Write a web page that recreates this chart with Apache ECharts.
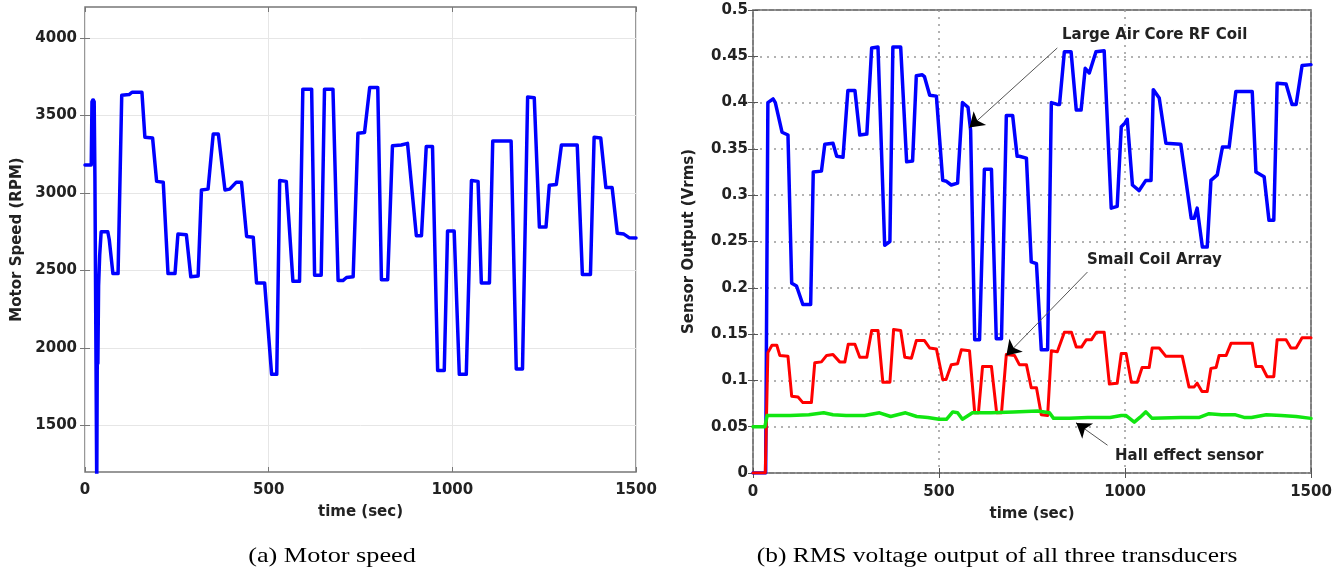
<!DOCTYPE html>
<html>
<head>
<meta charset="utf-8">
<script src="https://cdn.jsdelivr.net/npm/echarts@6/dist/echarts.min.js"></script>
<style>
html,body{margin:0;padding:0;background:#fff;}
#chart{width:1343px;height:573px;}
</style>
</head>
<body>
<div id="chart"></div>
<script>
// ---------- DATA ----------
const xTicks = [0, 500, 1000, 1500];
const motorTicks = [1500, 2000, 2500, 3000, 3500, 4000];

// (a) Motor speed [time s, RPM]
const motorSpeed = [[0,3180],[17,3180],[19,3590],[20,3200],[21,3600],[22,3200],[23,3600],[24,3250],[25,3590],[27,3100],[30,1900],[32,1100],[34,2300],[35,1900],[37,2400],[40,2600],[44,2750],[62,2750],[66,2700],[76,2480],[90,2480],[100,3630],[120,3635],[128,3650],[155,3650],[163,3360],[184,3355],[195,3075],[213,3070],[226,2480],[245,2480],[253,2735],[276,2730],[288,2460],[308,2465],[317,3020],[335,3025],[349,3380],[363,3380],[381,3020],[394,3025],[412,3070],[426,3070],[440,2720],[458,2715],[467,2420],[489,2420],[508,1830],[522,1830],[530,3080],[548,3075],[566,2430],[584,2430],[593,3670],[617,3670],[625,2470],[643,2470],[652,3670],[675,3670],[689,2435],[702,2435],[712,2455],[730,2460],[743,3385],[761,3390],[775,3680],[797,3680],[807,2440],[824,2440],[837,3305],[861,3310],[878,3320],[902,2725],[916,2725],[929,3300],[946,3300],[960,1855],[978,1855],[987,2755],[1005,2755],[1019,1830],[1038,1830],[1052,3080],[1070,3075],[1079,2420],[1101,2420],[1110,3335],[1160,3335],[1174,1865],[1191,1865],[1205,3620],[1223,3615],[1237,2780],[1255,2780],[1264,3050],[1283,3055],[1297,3310],[1340,3310],[1354,2475],[1376,2475],[1386,3360],[1404,3355],[1418,3035],[1435,3035],[1449,2740],[1467,2735],[1481,2712],[1500,2710]];

// (b) Large Air Core RF Coil [time s, Vrms]
const largeCoil = [[0,0],[34,0],[40,0.40],[54,0.404],[60,0.40],[78,0.368],[94,0.365],[104,0.205],[117,0.202],[134,0.182],[155,0.182],[162,0.325],[184,0.326],[193,0.355],[215,0.356],[225,0.342],[242,0.341],[255,0.413],[274,0.413],[287,0.365],[306,0.366],[319,0.459],[336,0.46],[354,0.246],[368,0.25],[376,0.46],[397,0.46],[413,0.336],[429,0.337],[439,0.429],[455,0.43],[461,0.428],[475,0.408],[493,0.407],[510,0.316],[520,0.315],[533,0.311],[550,0.313],[563,0.40],[578,0.395],[585,0.37],[596,0.144],[609,0.144],[622,0.328],[641,0.328],[654,0.145],[668,0.145],[681,0.386],[698,0.386],[710,0.342],[716,0.342],[735,0.34],[748,0.228],[762,0.226],[775,0.133],[792,0.133],[802,0.40],[818,0.398],[824,0.398],[837,0.455],[855,0.455],[869,0.392],[882,0.392],[893,0.437],[904,0.432],[922,0.455],[944,0.456],[963,0.286],[979,0.288],[990,0.374],[1000,0.378],[1006,0.382],[1020,0.311],[1038,0.305],[1056,0.316],[1070,0.316],[1076,0.414],[1092,0.405],[1110,0.356],[1150,0.355],[1178,0.275],[1186,0.275],[1194,0.286],[1208,0.244],[1221,0.244],[1231,0.316],[1248,0.322],[1262,0.352],[1280,0.352],[1298,0.412],[1342,0.412],[1352,0.325],[1374,0.32],[1387,0.273],[1400,0.273],[1409,0.421],[1433,0.42],[1449,0.398],[1460,0.398],[1476,0.44],[1500,0.441]];

// (b) Small Coil Array
const smallCoil = [[0,0],[33,0],[40,0.13],[51,0.138],[64,0.138],[72,0.127],[94,0.126],[104,0.083],[121,0.082],[134,0.076],[157,0.076],[166,0.119],[184,0.12],[198,0.127],[215,0.128],[233,0.12],[247,0.12],[256,0.139],[274,0.139],[287,0.125],[306,0.125],[319,0.154],[336,0.154],[349,0.098],[368,0.098],[378,0.155],[397,0.154],[408,0.125],[426,0.124],[439,0.143],[461,0.143],[475,0.135],[493,0.134],[510,0.101],[519,0.101],[533,0.117],[550,0.118],[560,0.133],[582,0.132],[596,0.065],[606,0.065],[617,0.115],[641,0.115],[655,0.065],[668,0.065],[681,0.128],[703,0.127],[716,0.117],[735,0.117],[748,0.092],[762,0.092],[775,0.063],[792,0.062],[802,0.132],[818,0.131],[837,0.152],[856,0.152],[869,0.136],[883,0.136],[896,0.144],[910,0.144],[923,0.152],[944,0.152],[958,0.096],[979,0.097],[990,0.129],[1003,0.129],[1017,0.098],[1033,0.098],[1046,0.114],[1065,0.114],[1073,0.135],[1092,0.135],[1110,0.126],[1154,0.126],[1172,0.093],[1186,0.093],[1194,0.097],[1207,0.088],[1221,0.088],[1231,0.113],[1245,0.114],[1253,0.127],[1272,0.127],[1285,0.14],[1342,0.14],[1352,0.115],[1368,0.115],[1382,0.104],[1400,0.104],[1409,0.144],[1433,0.144],[1446,0.135],[1460,0.135],[1476,0.146],[1500,0.146]];

// (b) Hall effect sensor
const hallSensor = [[0,0.05],[32,0.05],[38,0.062],[100,0.062],[150,0.063],[190,0.065],[215,0.063],[250,0.062],[300,0.062],[340,0.065],[370,0.061],[410,0.065],[440,0.061],[470,0.06],[500,0.058],[520,0.058],[537,0.066],[550,0.065],[563,0.058],[590,0.065],[640,0.065],[700,0.066],[765,0.067],[797,0.065],[808,0.059],[850,0.059],[900,0.06],[960,0.06],[990,0.062],[1003,0.062],[1025,0.055],[1040,0.06],[1056,0.066],[1073,0.059],[1150,0.06],[1200,0.06],[1226,0.064],[1260,0.063],[1295,0.063],[1320,0.06],[1340,0.06],[1380,0.063],[1420,0.062],[1460,0.061],[1500,0.059]];

// annotation arrows: [from, to] in data coordinates
const arrowLarge = [[818, 0.459], [582, 0.373]];
const arrowSmall = [[899, 0.217], [681, 0.127]];
const arrowHall  = [[953, 0.030], [869, 0.054]];

// ---------- CHART ----------
const chart = echarts.init(document.getElementById('chart'), null, {renderer: 'canvas'});
const F = 'DejaVu Sans';
const lblStyle = {fontFamily: F, fontWeight: 'bold', fontSize: 15, color: '#222'};
const plain = v => String(v);

function arrowML(a) {
  const from = a[0], to = a[1];
  const k = 0.03;
  const near = [to[0] + (from[0] - to[0]) * k, to[1] + (from[1] - to[1]) * k];
  return {
    silent: true, animation: false,
    symbol: ['none', 'none'],
    label: {show: false},
    emphasis: {disabled: true},
    data: [
      [{coord: from, lineStyle: {color: '#555', width: 1, type: 'solid'}}, {coord: to}],
      [{coord: near, symbol: 'none', lineStyle: {color: '#000', width: 1, type: 'solid'}},
       {coord: to, symbol: 'arrow', symbolSize: 14}]
    ]
  };
}

const mirrorX = (gi, color) => ({
  gridIndex: gi, type: 'value', position: 'top', min: 0, max: 1500, interval: 500,
  axisLine: {show: false}, axisLabel: {show: false}, splitLine: {show: false},
  axisTick: {show: true, inside: true, length: 5, lineStyle: {color: color}}
});

const option = {
  animation: false,
  backgroundColor: '#fff',
  grid: [
    {left: 85, top: 7, width: 551, height: 465, show: true, borderColor: '#777', borderWidth: 1.5, backgroundColor: '#fff'},
    {left: 753, top: 10, width: 558, height: 463, show: true, borderColor: '#555', borderWidth: 1.5, backgroundColor: '#fff'}
  ],
  xAxis: [
    {gridIndex: 0, type: 'value', min: 0, max: 1500, interval: 500,
     axisLine: {show: false},
     axisTick: {show: true, inside: true, length: 5, lineStyle: {color: '#777'}},
     axisLabel: Object.assign({margin: 11, formatter: plain}, lblStyle),
     splitLine: {show: true, lineStyle: {color: '#e6e6e6', width: 1}},
     name: 'time (sec)', nameLocation: 'middle', nameGap: 33, nameTextStyle: lblStyle},
    mirrorX(0, '#777'),
    {gridIndex: 1, type: 'value', min: 0, max: 1500, interval: 500,
     axisLine: {show: false},
     axisTick: {show: true, inside: true, length: 5, lineStyle: {color: '#555'}},
     axisLabel: Object.assign({margin: 12, formatter: plain}, lblStyle),
     splitLine: {show: true, lineStyle: {color: '#999', width: 1.5, type: [2, 5]}},
     name: 'time (sec)', nameLocation: 'middle', nameGap: 34, nameTextStyle: lblStyle},
    mirrorX(1, '#555')
  ],
  yAxis: [
    {gridIndex: 0, type: 'value', min: 1200, max: 4200,
     axisLine: {show: false},
     axisTick: {show: true, inside: true, length: 5, lineStyle: {color: '#777'}, customValues: motorTicks},
     axisLabel: Object.assign({margin: 8, customValues: motorTicks, formatter: plain}, lblStyle),
     splitLine: {show: true, lineStyle: {color: '#e6e6e6', width: 1}},
     name: 'Motor Speed (RPM)', nameLocation: 'middle', nameGap: 60, nameRotate: 90, nameTextStyle: lblStyle},
    {gridIndex: 0, type: 'value', position: 'right', min: 1200, max: 4200,
     axisLine: {show: false}, axisLabel: {show: false, customValues: motorTicks}, splitLine: {show: false},
     axisTick: {show: true, inside: true, length: 5, lineStyle: {color: '#777'}, customValues: motorTicks}},
    {gridIndex: 1, type: 'value', min: 0, max: 0.5, interval: 0.05,
     axisLine: {show: false},
     axisTick: {show: true, inside: true, length: 5, lineStyle: {color: '#555'}},
     axisLabel: Object.assign({margin: 5, formatter: plain}, lblStyle),
     splitLine: {show: true, lineStyle: {color: '#999', width: 1.5, type: [2, 5]}},
     name: 'Sensor Output (Vrms)', nameLocation: 'middle', nameGap: 56, nameRotate: 90, nameTextStyle: lblStyle},
    {gridIndex: 1, type: 'value', position: 'right', min: 0, max: 0.5, interval: 0.05,
     axisLine: {show: false}, axisLabel: {show: false}, splitLine: {show: false},
     axisTick: {show: true, inside: true, length: 5, lineStyle: {color: '#555'}}}
  ],
  series: [
    {type: 'line', xAxisIndex: 0, yAxisIndex: 0, data: motorSpeed, showSymbol: false, clip: true,
     lineStyle: {color: '#0000ff', width: 3.5, join: 'round', cap: 'round'}, itemStyle: {color: '#0000ff'}},
    {type: 'line', xAxisIndex: 2, yAxisIndex: 2, data: largeCoil, showSymbol: false, clip: true,
     lineStyle: {color: '#0000ff', width: 3.5, join: 'round', cap: 'round'}, itemStyle: {color: '#0000ff'},
     markLine: arrowML(arrowLarge)},
    {type: 'line', xAxisIndex: 2, yAxisIndex: 2, data: smallCoil, showSymbol: false, clip: true,
     lineStyle: {color: '#ff0000', width: 3, join: 'round', cap: 'round'}, itemStyle: {color: '#ff0000'},
     markLine: arrowML(arrowSmall)},
    {type: 'line', xAxisIndex: 2, yAxisIndex: 2, data: hallSensor, showSymbol: false, clip: true,
     lineStyle: {color: '#11e611', width: 3.5, join: 'round', cap: 'round'}, itemStyle: {color: '#11e611'},
     markLine: arrowML(arrowHall)}
  ],
  graphic: [
    {type: 'text', left: 1062, top: 28, z: 100,
     style: {text: 'Large Air Core RF Coil', fontFamily: F, fontWeight: 'bold', fontSize: 15, fill: '#222'}},
    {type: 'text', left: 1087, top: 253, z: 100,
     style: {text: 'Small Coil Array', fontFamily: F, fontWeight: 'bold', fontSize: 15, fill: '#222'}},
    {type: 'text', left: 1115, top: 449, z: 100,
     style: {text: 'Hall effect sensor', fontFamily: F, fontWeight: 'bold', fontSize: 15, fill: '#222'}},
    {type: 'text', x: 332, y: 556, scaleX: 1.25, z: 100,
     style: {text: '(a) Motor speed', fontFamily: 'Liberation Serif', fontSize: 21, fill: '#000', align: 'center', verticalAlign: 'middle'}},
    {type: 'text', x: 997, y: 556, scaleX: 1.21, z: 100,
     style: {text: '(b) RMS voltage output of all three transducers', fontFamily: 'Liberation Serif', fontSize: 21, fill: '#000', align: 'center', verticalAlign: 'middle'}}
  ]
};
chart.setOption(option);
</script>
</body>
</html>
